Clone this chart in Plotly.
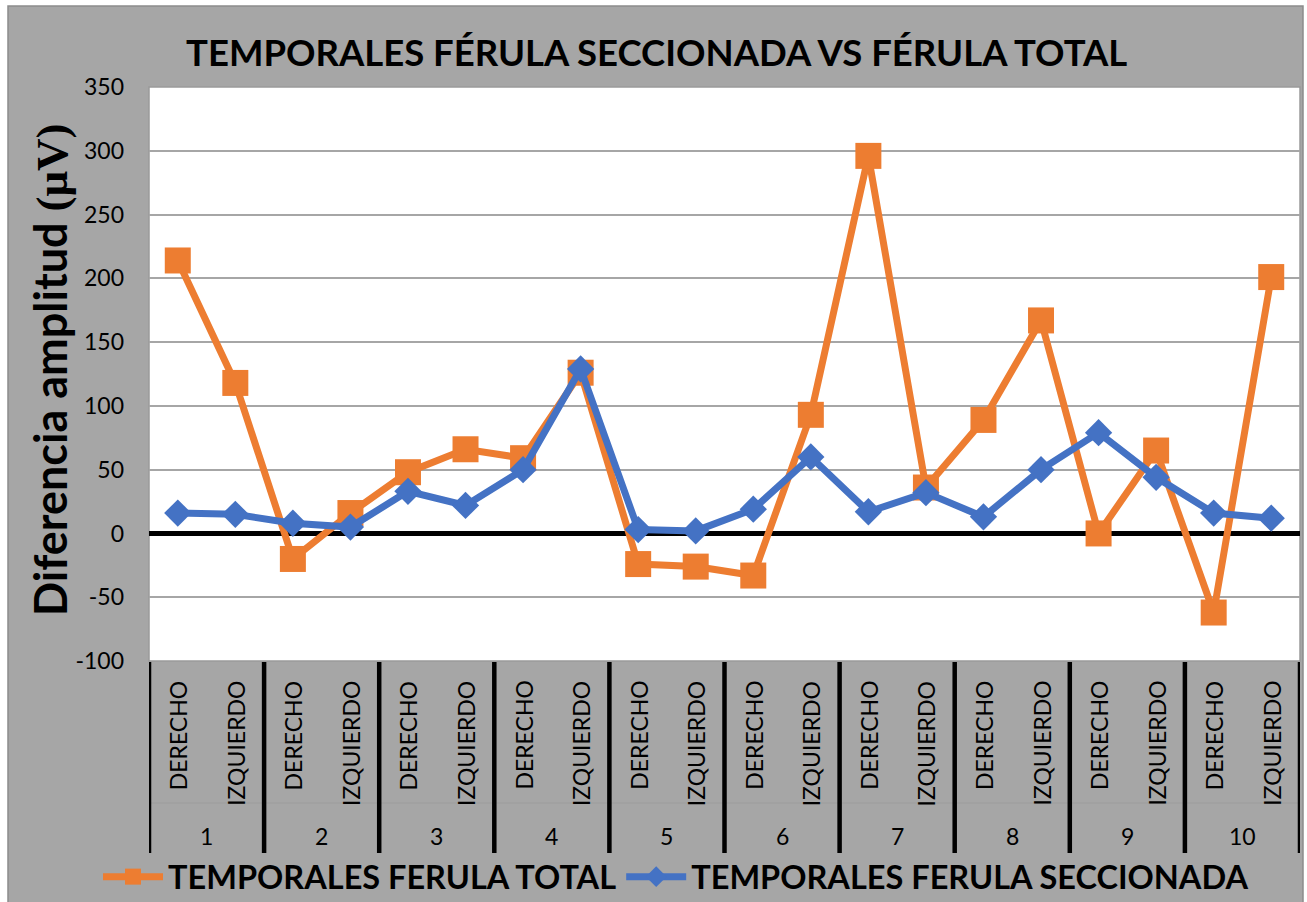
import plotly.graph_objects as go

# Diferencia de amplitud por paciente y lado
pacientes = ["1", "2", "3", "4", "5", "6", "7", "8", "9", "10"]
lados = ["DERECHO", "IZQUIERDO"]

ferula_total = [214, 118, -20, 16, 48, 66, 59, 126, -24, -26,
                -33, 93, 296, 36, 89, 167, 0, 65, -62, 201]
ferula_seccionada = [16, 15, 8, 5, 33, 22, 50, 129, 3, 2,
                     19, 60, 17, 32, 13, 50, 79, 44, 16, 12]

y_ticks = [-100, -50, 0, 50, 100, 150, 200, 250, 300, 350]
y_tick_text = ["-100", "-50", "0", "50", "100", "150", "200", "250", "300", "350"]

W, H = 1307, 902
L, R, T, B = 149, 7, 87, 241
PW, PH = W - L - R, H - T - B

def px_x(px):
    return (px - L) / PW

def px_y(py):
    return (H - B - py) / PH

idx = list(range(len(ferula_total)))
FONT = "Lato"
ORANGE = "#ED7D31"
BLUE = "#4472C4"
GRAY = "#A6A6A6"

fig = go.Figure()
fig.add_trace(go.Scatter(
    x=idx, y=ferula_total, mode="lines+markers",
    name="TEMPORALES FERULA TOTAL",
    line=dict(color=ORANGE, width=7),
    marker=dict(symbol="square", size=26, color=ORANGE),
))
fig.add_trace(go.Scatter(
    x=idx, y=ferula_seccionada, mode="lines+markers",
    name="TEMPORALES FERULA SECCIONADA",
    line=dict(color=BLUE, width=7),
    marker=dict(symbol="diamond", size=21, color=BLUE),
))

shapes = [
    # gray chart background with thin border
    dict(type="rect", xref="paper", yref="paper", layer="below",
         x0=px_x(8), x1=px_x(1303), y0=px_y(905), y1=px_y(6),
         fillcolor=GRAY, line=dict(color="#8C8C8C", width=1.5)),
    # white plot area
    dict(type="rect", xref="paper", yref="paper", layer="below",
         x0=0, x1=1, y0=0, y1=1,
         fillcolor="white", line=dict(color="#9A9A9A", width=1.5)),
    # faint line between the two label levels
    dict(type="line", xref="paper", yref="paper",
         x0=0, x1=1, y0=px_y(803), y1=px_y(803),
         line=dict(color="#9C9C9C", width=1)),
]
n_groups = len(pacientes)
for g in range(n_groups + 1):
    xb = g * 2 - 0.5
    shapes.append(dict(type="line", xref="x", yref="paper",
                       x0=xb, x1=xb, y0=px_y(662), y1=px_y(853),
                       line=dict(color="black", width=4.5)))

annotations = []
for i in idx:
    annotations.append(dict(
        x=i, xref="x", y=px_y(679), yref="paper",
        text=lados[i % 2], textangle=-90, showarrow=False,
        xanchor="center", yanchor="top",
        font=dict(family=FONT, size=23, color="black"),
    ))
for g, p in enumerate(pacientes):
    annotations.append(dict(
        x=g * 2 + 0.5, xref="x", y=px_y(836), yref="paper",
        text=p, showarrow=False, xanchor="center", yanchor="middle",
        font=dict(family=FONT, size=23, color="black"),
    ))
annotations.append(dict(
    x=px_x(656), xref="paper", y=px_y(52), yref="paper",
    text="<b>TEMPORALES FÉRULA SECCIONADA VS FÉRULA TOTAL</b>",
    showarrow=False, xanchor="center", yanchor="middle",
    font=dict(family=FONT, size=36.5, color="black"),
))
annotations.append(dict(
    x=px_x(50), xref="paper", y=px_y(370), yref="paper",
    text=("<b>Diferencia amplitud "
          "<span style=\"font-family:'Liberation Serif'\">(μV)</span></b>"),
    textangle=-90, showarrow=False, xanchor="center", yanchor="middle",
    font=dict(family=FONT, size=45, color="black"),
))

fig.update_layout(
    width=W, height=H,
    margin=dict(l=L, r=R, t=T, b=B, autoexpand=False),
    paper_bgcolor="white",
    plot_bgcolor="rgba(0,0,0,0)",
    font=dict(family=FONT, color="black"),
    showlegend=True,
    legend=dict(
        orientation="h", x=px_x(98), xanchor="left",
        y=px_y(877), yanchor="middle",
        font=dict(family=FONT, size=32.5, color="black", weight="bold"),
        bgcolor="rgba(0,0,0,0)", itemwidth=60, tracegroupgap=0,
    ),
    shapes=shapes,
    annotations=annotations,
)
fig.update_xaxes(range=[-0.5, len(idx) - 0.5], showticklabels=False,
                 showgrid=False, zeroline=False, ticks="")
fig.update_yaxes(range=[-100, 350], tickvals=y_ticks, ticktext=y_tick_text,
                 showgrid=True, gridcolor=GRAY, gridwidth=2,
                 zeroline=True, zerolinecolor="black", zerolinewidth=5,
                 tickfont=dict(family=FONT, size=23, color="black"),
                 ticks="", ticklabelstandoff=24)

fig.write_html("out.html")
